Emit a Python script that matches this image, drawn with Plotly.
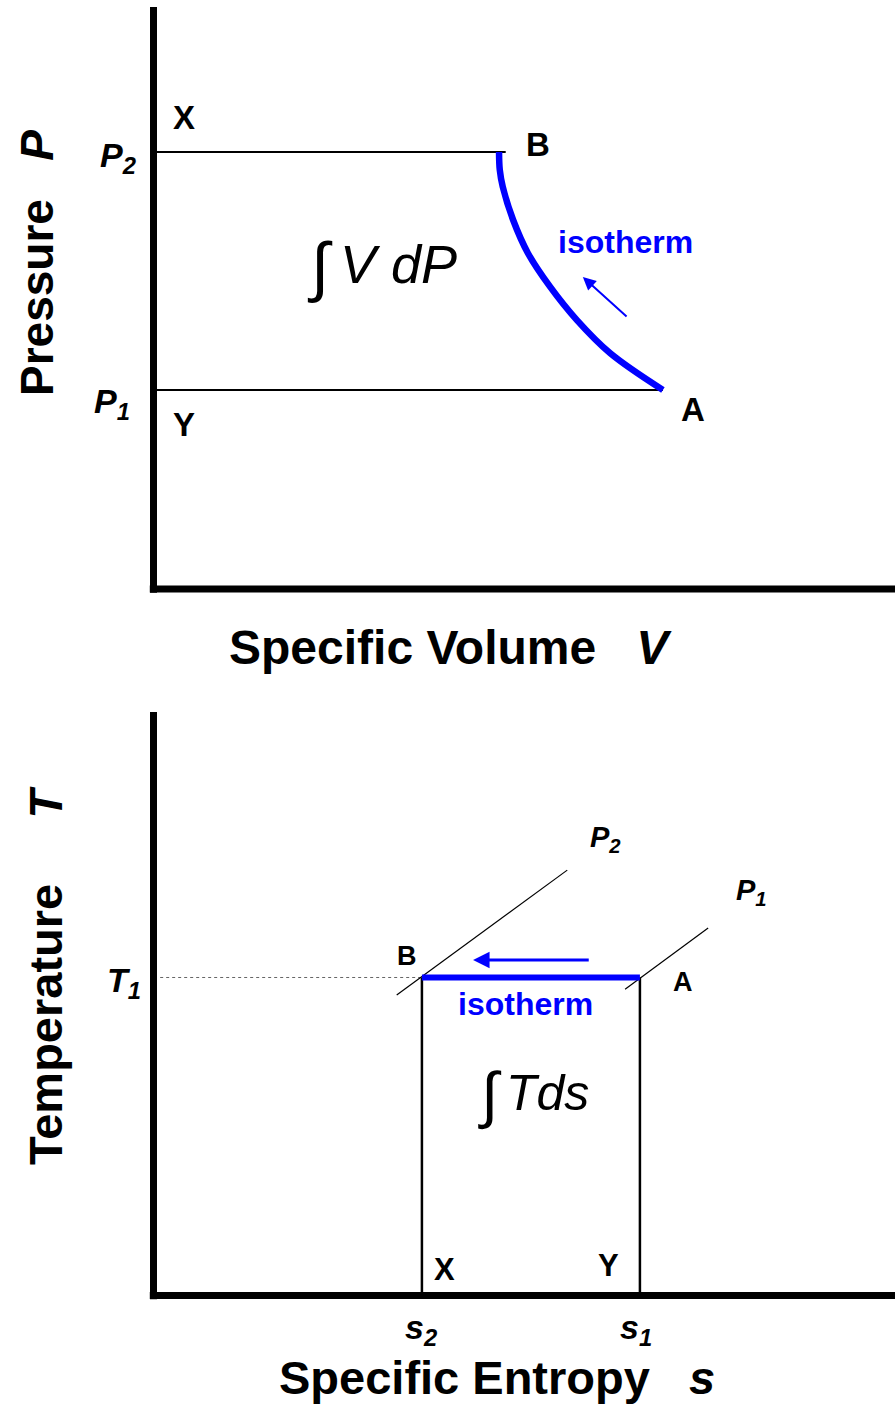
import plotly.graph_objects as go

# ---------------- data (diagram units) ----------------
# Top panel: P-V diagram
P_levels = [7.51, 3.42]            # P2, P1
P_line_end_V = [4.75, 6.87]        # where horizontal P lines end
iso_V = [4.66, 4.67, 4.71, 4.85, 5.05, 5.35, 5.71, 6.16, 6.87]
iso_P = [7.51, 7.20, 6.91, 6.34, 5.77, 5.19, 4.62, 4.05, 3.42]
arrow1_tail = [6.40, 4.66]
arrow1_head = [5.79, 5.36]

# Bottom panel: T-s diagram
s_values = [3.62, 6.56]            # s2, s1
T1 = 5.45
isobar_P2_s = [3.28, 5.58]
isobar_P2_T = [5.15, 7.29]
isobar_P1_s = [6.36, 7.48]
isobar_P1_T = [5.25, 6.30]
arrow2_tail = [5.89, 5.75]
arrow2_head = [4.31, 5.75]

AXMAX = 10.0
FONT = "Liberation Sans, Arial, sans-serif"
BLUE = "#0000FF"
W, H = 895, 1408

fig = go.Figure()

def line(x, y, xa, ya, color="black", width=2, dash=None, shape="linear"):
    fig.add_trace(go.Scatter(x=x, y=y, mode="lines", xaxis=xa, yaxis=ya,
                             line=dict(color=color, width=width, dash=dash,
                                       shape=shape, smoothing=1.0 if shape == "spline" else None),
                             hoverinfo="skip", showlegend=False))

# ---- top panel ----
line([0, 0], [-0.065, AXMAX], "x", "y", width=7)
line([-0.05, AXMAX], [0, 0], "x", "y", width=7)
for p, ve in zip(P_levels, P_line_end_V):
    line([0, ve], [p, p], "x", "y", width=2)
line(iso_V, iso_P, "x", "y", color=BLUE, width=6.5, shape="spline")

# ---- bottom panel ----
line([0, 0], [-0.065, AXMAX], "x2", "y2", width=7)
line([-0.05, AXMAX], [0, 0], "x2", "y2", width=7)
line([0.09, s_values[0]], [T1, T1], "x2", "y2", color="#666666", width=1, dash="dot")
for s in s_values:
    line([s, s], [0, T1], "x2", "y2", width=2.5)
line(isobar_P2_s, isobar_P2_T, "x2", "y2", width=1.2)
line(isobar_P1_s, isobar_P1_T, "x2", "y2", width=1.2)
line(s_values, [T1, T1], "x2", "y2", color=BLUE, width=6)

anns = []
def ann(text, x, y, xr, yr, size, color="black", **kw):
    d = dict(text=text, x=x, y=y, xref=xr, yref=yr, showarrow=False,
             font=dict(family=FONT, size=size, color=color),
             xanchor="center", yanchor="middle")
    d.update(kw)
    anns.append(d)

def sub(main, idx):
    return f"<b><i>{main}</i></b><sub><b><i>{idx}</i></b></sub>"

# top labels
ann("<b>X</b>", 0.41, 8.11, "x", "y", 33)
ann(sub("P", "2"), -0.48, 7.42, "x", "y", 34)
ann("<b>B</b>", 5.19, 7.63, "x", "y", 33)
ann("<b>isotherm</b>", 6.36, 5.96, "x", "y", 32, BLUE)
ann("∫", 2.24, 5.55, "x", "y", 66)
ann("<i>V dP</i>", 3.31, 5.58, "x", "y", 54)
ann(sub("P", "1"), -0.56, 3.18, "x", "y", 34)
ann("<b>Y</b>", 0.41, 2.82, "x", "y", 33)
ann("<b>A</b>", 7.28, 3.08, "x", "y", 33)
anns.append(dict(text="", x=arrow1_head[0], y=arrow1_head[1], ax=arrow1_tail[0], ay=arrow1_tail[1],
                 xref="x", yref="y", axref="x", ayref="y", showarrow=True,
                 arrowhead=2, arrowsize=1.3, arrowwidth=2, arrowcolor=BLUE))

# bottom labels
ann(sub("P", "2"), 6.10, 7.82, "x2", "y2", 29)
ann(sub("P", "1"), 8.07, 6.91, "x2", "y2", 29)
ann(sub("T", "1"), -0.40, 5.36, "x2", "y2", 34)
ann("<b>B</b>", 3.42, 5.82, "x2", "y2", 27)
ann("<b>A</b>", 7.14, 5.37, "x2", "y2", 27)
ann("<b>isotherm</b>", 5.02, 4.99, "x2", "y2", 32, BLUE)
ann("∫", 4.54, 3.43, "x2", "y2", 62)
ann("<i>Tds</i>", 5.31, 3.47, "x2", "y2", 50)
ann("<b>X</b>", 3.92, 0.44, "x2", "y2", 31)
ann("<b>Y</b>", 6.13, 0.51, "x2", "y2", 31)
ann(sub("s", "2"), 3.61, -0.58, "x2", "y2", 34)
ann(sub("s", "1"), 6.51, -0.58, "x2", "y2", 34)
anns.append(dict(text="", x=arrow2_head[0], y=arrow2_head[1], ax=arrow2_tail[0], ay=arrow2_tail[1],
                 xref="x2", yref="y2", axref="x2", ayref="y2", showarrow=True,
                 arrowhead=2, arrowsize=1.1, arrowwidth=3, arrowcolor=BLUE))

# axis titles (paper)
NB = "\u00a0"
ann(f"<b>Pressure</b>{NB*3}<b><i>P</i></b>", 37 / W, 1 - 263 / H, "paper", "paper", 46, textangle=-90)
ann(f"<b>Specific Volume</b>{NB*3}<b><i>V</i></b>", 450 / W, 1 - 647 / H, "paper", "paper", 48)
ann(f"<b>Temperature</b>{NB*5}<b><i>T</i></b>", 45 / W, 1 - 975 / H, "paper", "paper", 47, textangle=-90)
ann(f"<b>Specific Entropy</b>{NB*3}<b><i>s</i></b>", 497 / W, 1 - 1377 / H, "paper", "paper", 47,
    borderpad=0)

# axis geometry: origin pixels & scales
ox = 153.5
sx = (W - ox) / AXMAX
top_oy, top_sy = 589.0, 58.2
bot_oy, bot_sy = 1295.5, 58.35
top_dom = (0, 700)
bot_dom = (700, H)

def yr(oy, sy, dom):
    return [-(dom[1] - oy) / sy, (oy - dom[0]) / sy]

hidden = dict(showgrid=False, zeroline=False, showticklabels=False, ticks="",
              showline=False, fixedrange=True)
fig.update_layout(
    width=W, height=H, margin=dict(l=0, r=0, t=0, b=0),
    paper_bgcolor="white", plot_bgcolor="white", showlegend=False,
    xaxis=dict(domain=[0, 1], range=[-ox / sx, AXMAX], anchor="y", **hidden),
    yaxis=dict(domain=[1 - top_dom[1] / H, 1 - top_dom[0] / H],
               range=yr(top_oy, top_sy, top_dom), anchor="x", **hidden),
    xaxis2=dict(domain=[0, 1], range=[-ox / sx, AXMAX], anchor="y2", **hidden),
    yaxis2=dict(domain=[1 - bot_dom[1] / H, 1 - bot_dom[0] / H],
                range=yr(bot_oy, bot_sy, bot_dom), anchor="x2", **hidden),
    annotations=anns,
)

fig.write_html("out.html")
